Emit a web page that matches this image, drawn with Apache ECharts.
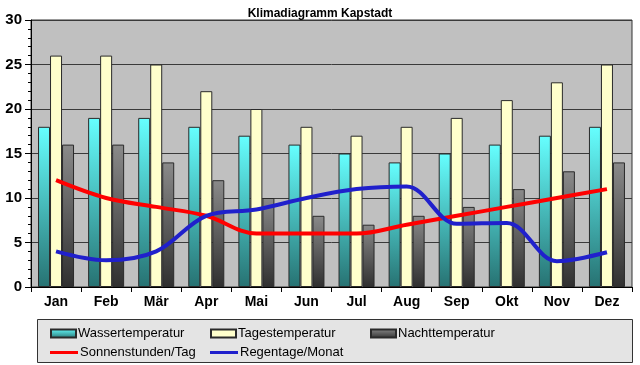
<!DOCTYPE html>
<html><head><meta charset="utf-8">
<script src="https://cdn.jsdelivr.net/npm/echarts@6/dist/echarts.min.js"></script>
<style>html,body{margin:0;padding:0;background:#fff}#c{width:640px;height:365px}</style>
</head><body><div id="c"></div>
<script>
const months = ['Jan','Feb','Mär','Apr','Mai','Jun','Jul','Aug','Sep','Okt','Nov','Dez'];
const wasser = [18,19,19,18,17,16,15,14,15,16,17,18];
const tages = [26,26,25,22,20,18,17,18,19,21,23,25];
const nacht = [16,16,14,12,10,8,7,8,9,11,13,14];
const sonne = [12,10,9,8,6,6,6,7,8,9,10,11];
const regen = [4,3,4,8,8.7,10,11,11.3,7.1,7.2,2.9,3.9];

const FONT = 'Liberation Sans, Arial, sans-serif';
const chart = echarts.init(document.getElementById('c'), null, {renderer:'canvas'});
const grad = (a,b)=>new echarts.graphic.LinearGradient(0,0,0,1,[{offset:0,color:a},{offset:1,color:b}]);
const barBorder = {borderColor:'#2a2a2a', borderWidth:1};
function legendItem(name, left, top, w, h){
  return {data:[{name:name, icon:'rect'}], left:left, top:top, itemWidth:w, itemHeight:h, itemGap:0,
    textStyle:{fontFamily:FONT, fontSize:13, color:'#000', padding:[0,0,0,-3]}, padding:0, selectedMode:false};
}
chart.setOption({
  animation:false,
  backgroundColor:'#fff',
  title:{text:'Klimadiagramm Kapstadt', left:'center', top:3, textStyle:{fontFamily:FONT, fontSize:12, fontWeight:'bold', color:'#000'}},
  grid:{left:31, right:8, top:20, bottom:78, show:true, backgroundColor:'#c0c0c0', borderColor:'#333', borderWidth:1},
  graphic:[{type:'rect', left:37, top:319, shape:{width:595, height:43}, style:{fill:'#e4e4e4', stroke:'#333', lineWidth:1}, z:-1}],
  legend:[
    legendItem('Wassertemperatur',50,327,25,8),
    legendItem('Tagestemperatur',210,327,25,8),
    legendItem('Nachttemperatur',370,327,25,8),
    legendItem('Sonnenstunden/Tag',50,346,28,3),
    legendItem('Regentage/Monat',210,346,28,3)
  ],
  xAxis:{type:'category', data:months, boundaryGap:true,
    axisLine:{lineStyle:{color:'#000'}}, axisTick:{show:true, length:5, inside:false, lineStyle:{color:'#000'}},
    axisLabel:{fontFamily:FONT, fontSize:14, fontWeight:'bold', color:'#000', margin:8}},
  yAxis:{type:'value', min:0, max:30, interval:5,
    axisLine:{show:true, lineStyle:{color:'#000'}}, axisTick:{show:true, length:6, lineStyle:{color:'#000'}},
    minorTick:{show:true, splitNumber:5, length:3, lineStyle:{color:'#000'}},
    splitLine:{show:true, lineStyle:{color:'#3a3a3a', width:1}},
    axisLabel:{fontFamily:FONT, fontSize:15, fontWeight:'bold', color:'#000', margin:9}},
  series:[
    {name:'Wassertemperatur', type:'bar', data:wasser, barWidth:12, barGap:'0%', itemStyle:Object.assign({color:grad('#66ffff','#277272')},barBorder)},
    {name:'Tagestemperatur', type:'bar', data:tages, barWidth:12, barGap:'0%', itemStyle:Object.assign({color:'#ffffcc'},barBorder)},
    {name:'Nachttemperatur', type:'bar', data:nacht, barWidth:12, barGap:'0%', itemStyle:Object.assign({color:grad('#8a8a8a','#303030')},barBorder)},
    {name:'Sonnenstunden/Tag', type:'line', data:sonne, smooth:0.35, symbol:'none', lineStyle:{color:'#ff0000', width:4}, itemStyle:{color:'#ff0000', borderWidth:0}, z:5},
    {name:'Regentage/Monat', type:'line', data:regen, smooth:0.35, symbol:'none', lineStyle:{color:'#2020cc', width:4}, itemStyle:{color:'#2020cc', borderWidth:0}, z:5}
  ]
});
</script></body></html>
